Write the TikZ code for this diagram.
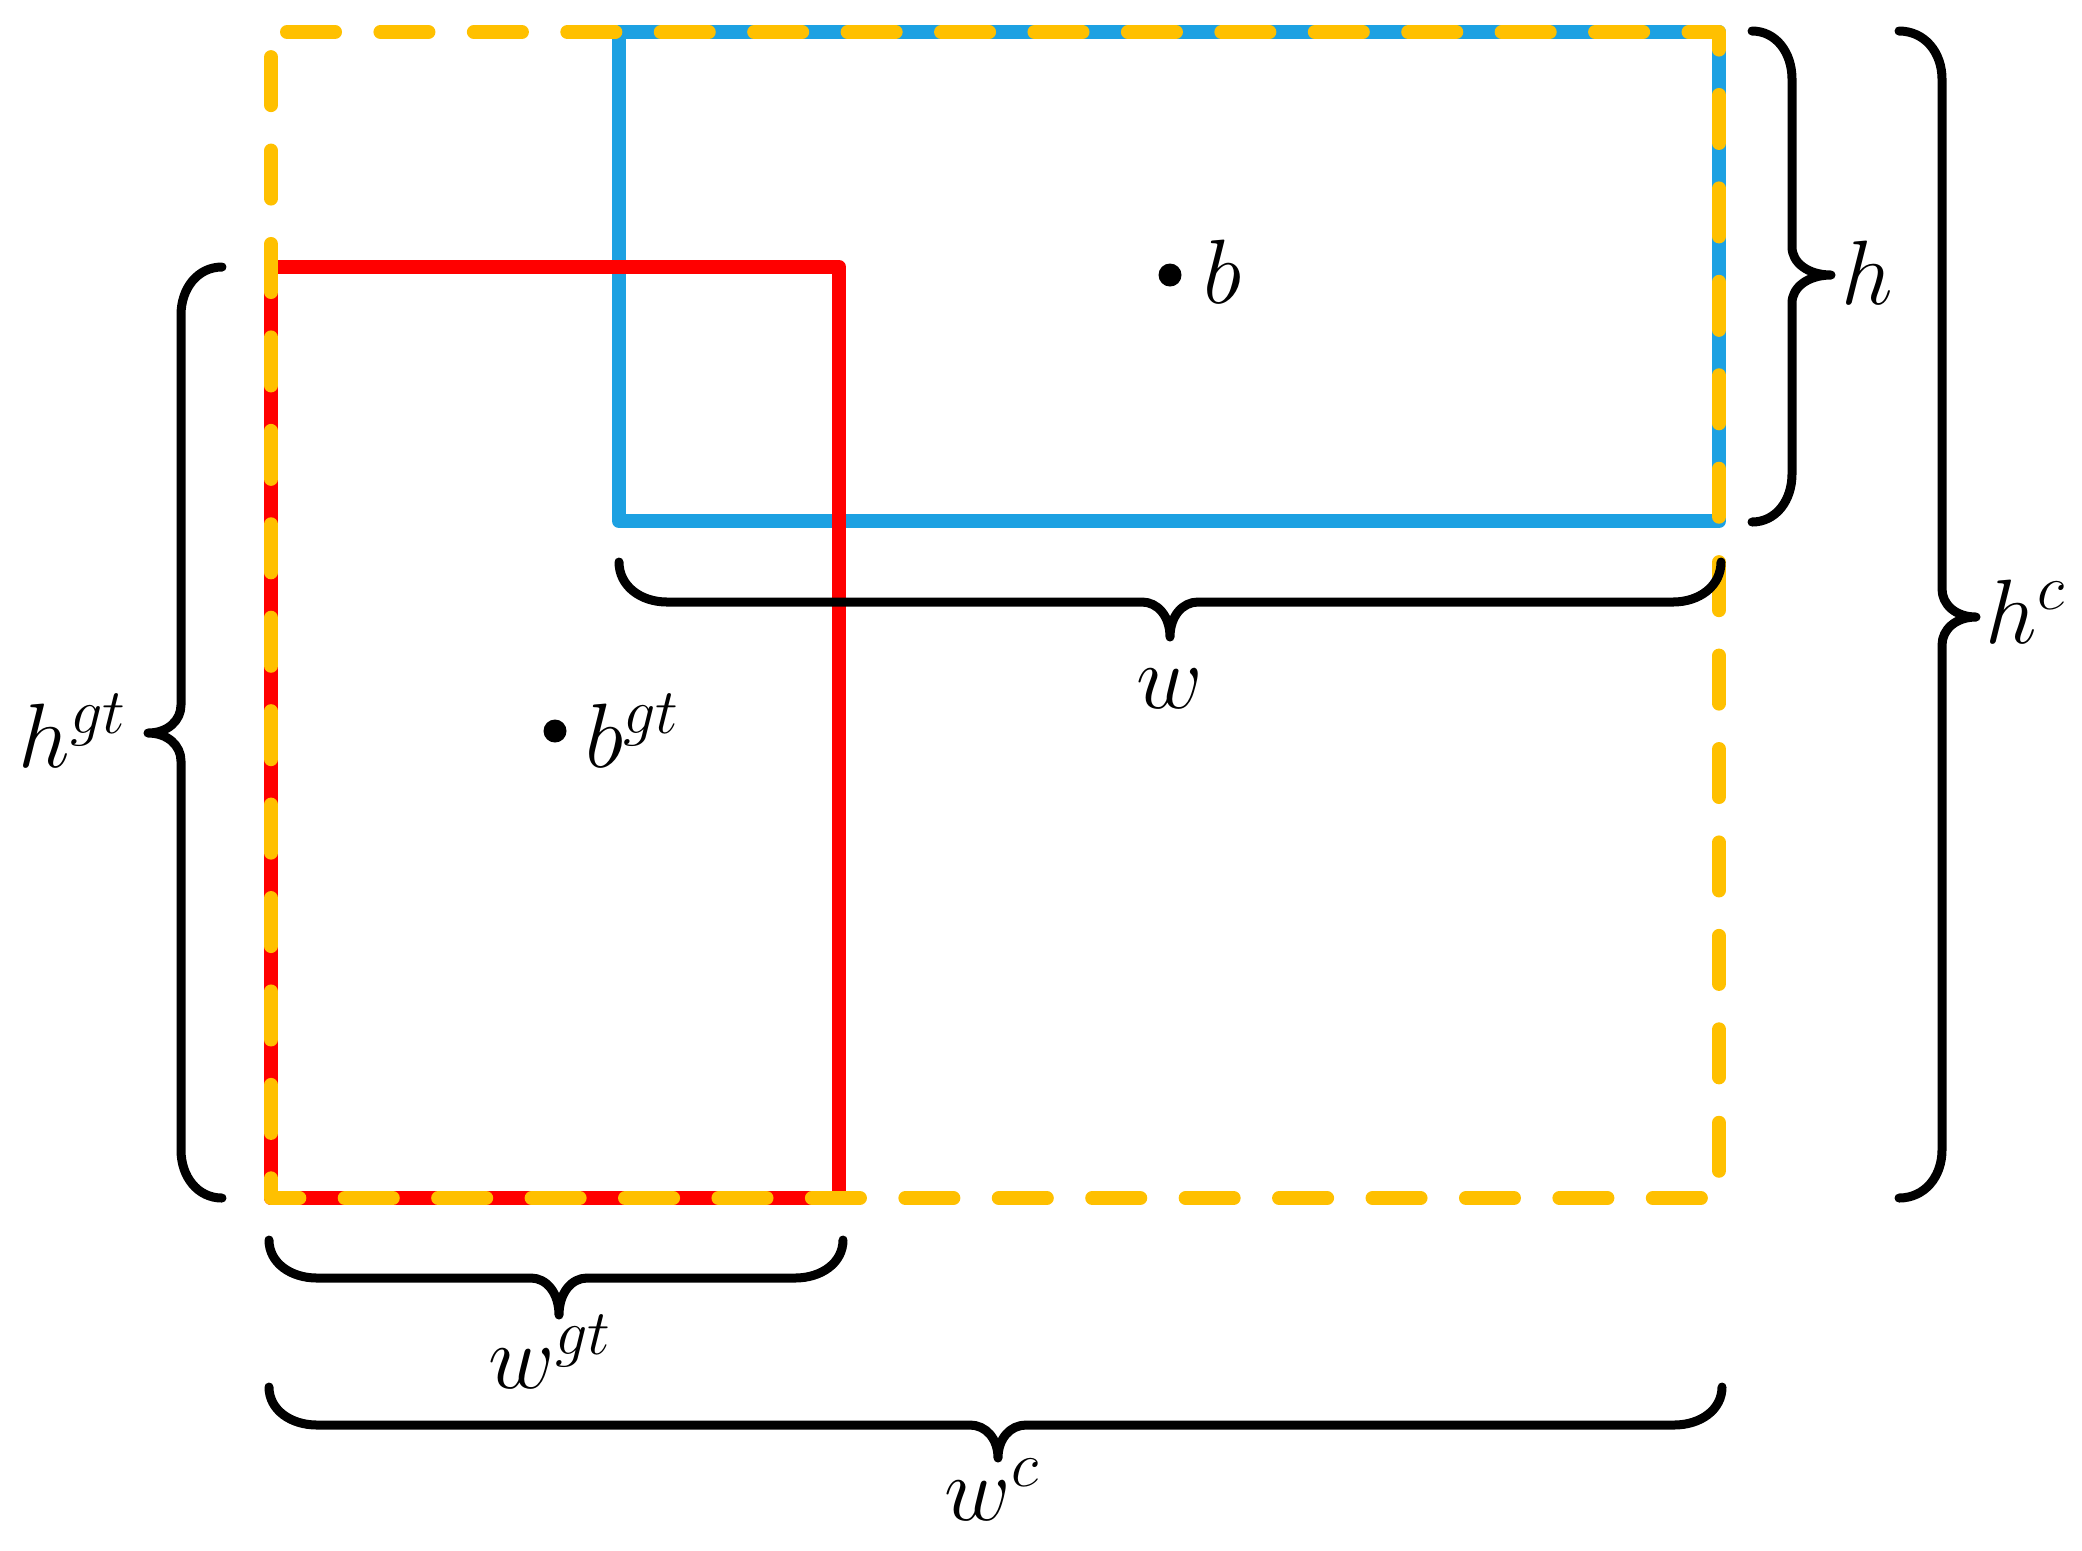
\RequirePackage{fix-cm}
\documentclass[tikz,border=0pt]{standalone}
\definecolor{boxblueC}{RGB}{29,161,226}
\definecolor{boxredC}{RGB}{255,0,0}
\definecolor{boxyellowC}{RGB}{255,192,0}
\newcommand\brcurl{48}
\newcommand\brtip{28}
% vertical brace: #1 end x, #2 spine x, #3 tip x, #4 top y, #5 bottom y, #6 tip y
\newcommand\myvbrace[6]{%
  \draw[bracestyle] (#1,#4) .. controls ({#1+0.6*(#2-#1)},#4) and (#2,{#4+0.45*\brcurl}) .. (#2,{#4+\brcurl})
    -- (#2,{#6-\brtip}) .. controls (#2,{#6-0.45*\brtip}) and ({#2+0.4*(#3-#2)},#6) .. (#3,#6)
    .. controls ({#2+0.4*(#3-#2)},#6) and (#2,{#6+0.45*\brtip}) .. (#2,{#6+\brtip})
    -- (#2,{#5-\brcurl}) .. controls (#2,{#5-0.45*\brcurl}) and ({#1+0.6*(#2-#1)},#5) .. (#1,#5);}
% horizontal brace: #1 end y, #2 spine y, #3 tip y, #4 left x, #5 right x, #6 tip x
\newcommand\myhbrace[6]{%
  \draw[bracestyle] (#4,#1) .. controls (#4,{#1+0.6*(#2-#1)}) and ({#4+0.45*\brcurl},#2) .. ({#4+\brcurl},#2)
    -- ({#6-\brtip},#2) .. controls ({#6-0.45*\brtip},#2) and (#6,{#2+0.4*(#3-#2)}) .. (#6,#3)
    .. controls (#6,{#2+0.4*(#3-#2)}) and ({#6+0.45*\brtip},#2) .. ({#6+\brtip},#2)
    -- ({#5-\brcurl},#2) .. controls ({#5-0.45*\brcurl},#2) and (#5,{#1+0.6*(#2-#1)}) .. (#5,#1);}
\begin{document}
\begin{tikzpicture}[x=0.01cm,y=-0.01cm,line join=round,
  boxblue/.style={draw=boxblueC,line width=1.4mm},
  boxred/.style={draw=boxredC,line width=1.4mm},
  boxyellow/.style={draw=boxyellowC,line width=1.4mm,line cap=round,
     dash pattern=on 4.8mm off 4.538mm,dash phase=7.738mm},
  bracestyle/.style={draw=black,line width=0.9mm,line cap=round},
  dotstyle/.style={circle,fill=black,inner sep=0pt,minimum size=2.3mm},
  lbl/.style={font=\fontsize{26}{31}\selectfont,inner sep=0pt}]
\useasboundingbox (0,0) rectangle (2082,1550);
% boxes
\draw[boxblue] (619,32) rectangle (1719,521);
\draw[boxred] (271,267) rectangle (839,1198);
\draw[boxyellow] (271,32) -- (1719,32) -- (1719,1198) -- (271,1198) -- cycle;
% centre points
\node[dotstyle] (pb) at (1170,275) {};
\node[dotstyle] (pbgt) at (555,731) {};
\node[lbl,anchor=base west] (lb) at (1203,303) {$b$};
\node[lbl,anchor=base west] (lbgt) at (585,767) {$b^{gt}$};
% braces
\myvbrace{1752}{1792}{1831}{31}{522}{275}
\myvbrace{1899}{1942}{1976}{31}{1198}{617}
\myvbrace{222}{181}{148}{267}{1198}{733}
\myhbrace{562}{602}{637}{619}{1721}{1170}
\myhbrace{1240}{1278}{1315}{269}{843}{559}
\myhbrace{1387}{1425}{1458}{269}{1722}{998}
% labels
\node[lbl,anchor=base west] (lh) at (1841,304) {$h$};
\node[lbl,anchor=base west] (lhc) at (1985,643) {$h^{c}$};
\node[lbl,anchor=base west] (lhgt) at (18,767) {$h^{gt}$};
\node[lbl,anchor=base] (lw) at (1170,708) {$w$};
\node[lbl,anchor=base west] (lwgt) at (488,1388) {$w^{gt}$};
\node[lbl,anchor=base west] (lwc) at (944,1520) {$w^{c}$};
\end{tikzpicture}
\end{document}
